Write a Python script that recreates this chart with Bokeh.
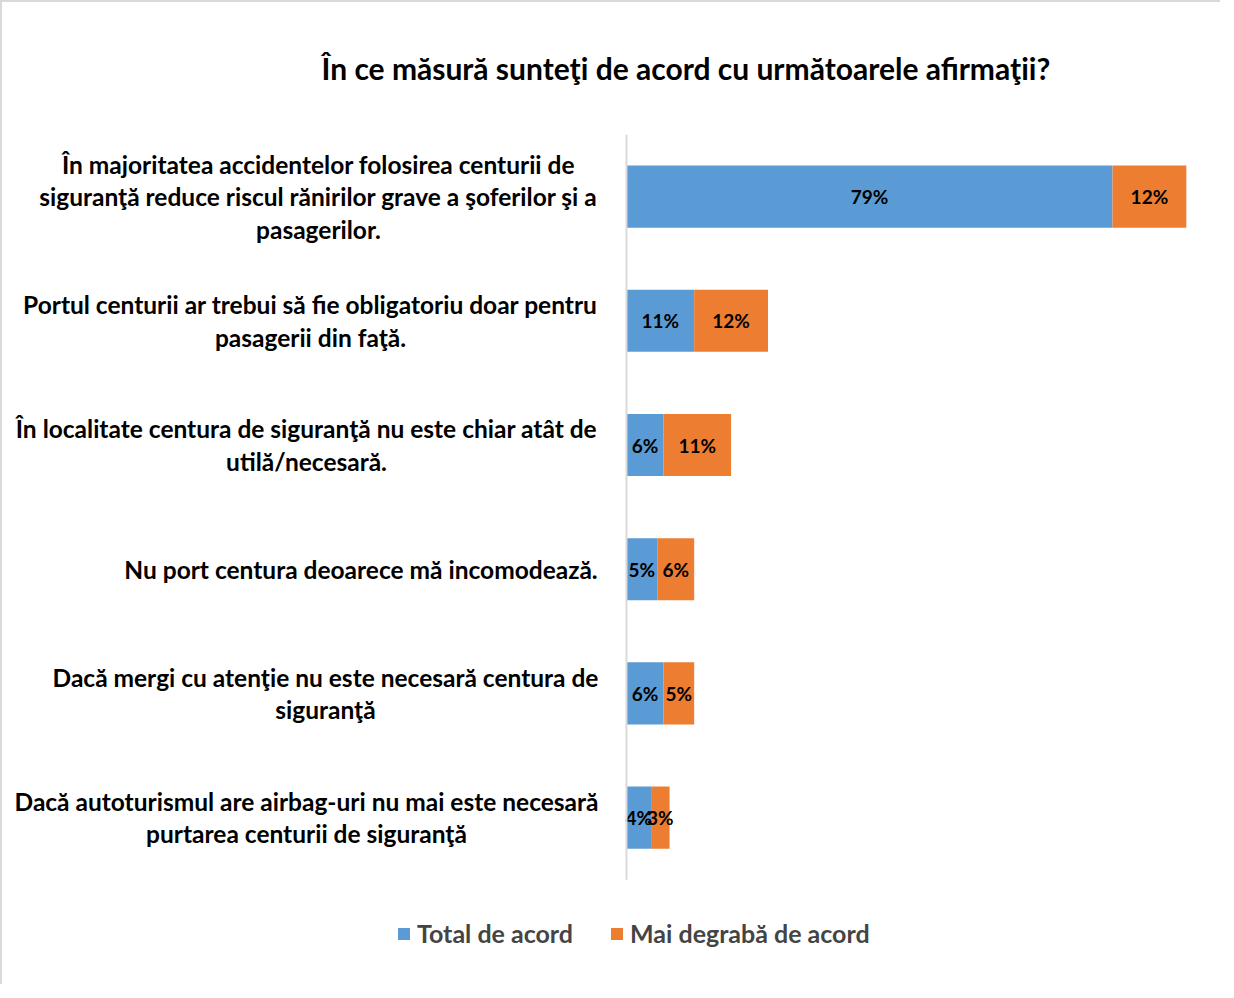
from bokeh.plotting import figure
from bokeh.models import ColumnDataSource, Range1d, Legend
from bokeh.embed import file_html
from bokeh.resources import INLINE
from bokeh.core.properties import value

categories = [
    "În majoritatea accidentelor folosirea centurii de\nsiguranţă reduce riscul rănirilor grave a şoferilor şi a\npasagerilor.",
    "Portul centurii ar trebui să fie obligatoriu doar pentru\npasagerii din faţă.",
    "În localitate centura de siguranţă nu este chiar atât de\nutilă/necesară.",
    "Nu port centura deoarece mă incomodează.",
    "Dacă mergi cu atenţie nu este necesară centura de\nsiguranţă",
    "Dacă autoturismul are airbag-uri nu mai este necesară\npurtarea centurii de siguranţă",
]
total_de_acord = [79, 11, 6, 5, 6, 4]
mai_degraba = [12, 12, 11, 6, 5, 3]
series_names = ["Total de acord", "Mai degrabă de acord"]
title_text = "În ce măsură sunteţi de acord cu următoarele afirmaţii?"

# --- styling ---
BLUE = "#5B9BD5"
ORANGE = "#ED7D31"
FONT = "Lato"
FRAME_W = 1212          # px
FRAME_H = 850           # px (bars area + legend strip below it)
AXIS_X = 624            # px from frame left where the value axis starts
PX_PER_UNIT = 6.152     # px per percentage point
PX_PER_CAT = 124.2      # px per category row
LABEL_GAP = 28          # px between category labels and axis
label_block_widths = [560, 576, 584, 475, 546, 584]   # px, for centred multi-line labels

n = len(categories)
ypos = [n - 1 - i for i in range(n)]   # first category on top

src = ColumnDataSource(dict(
    y=ypos,
    cat=categories,
    total=total_de_acord,
    mai=mai_degraba,
    total_mid=[t / 2 for t in total_de_acord],
    mai_mid=[t + m / 2 for t, m in zip(total_de_acord, mai_degraba)],
    total_lbl=[f"{t}%" for t in total_de_acord],
    mai_lbl=[f"{m}%" for m in mai_degraba],
    zero=[0] * n,
    lbl_off=[-(LABEL_GAP + w / 2) for w in label_block_widths],
))

p = figure(
    x_range=Range1d(-AXIS_X / PX_PER_UNIT, (FRAME_W - AXIS_X) / PX_PER_UNIT),
    y_range=Range1d((n - 0.5) - FRAME_H / PX_PER_CAT, n - 0.5),
    frame_width=FRAME_W, frame_height=FRAME_H,
    output_backend="svg", toolbar_location=None,
    min_border_left=0, min_border_right=6, min_border_top=0, min_border_bottom=0,
)

renderers = p.hbar_stack(["total", "mai"], y="y", height=0.5, color=[BLUE, ORANGE],
                         source=src, line_color=None)

for xcol, lcol in [("total_mid", "total_lbl"), ("mai_mid", "mai_lbl")]:
    p.text(x=xcol, y="y", text=lcol, source=src, text_align="center",
           text_baseline="middle", text_font=value(FONT), text_font_style="bold",
           text_font_size="19px", text_color="#000000")

# category labels (centred lines, block right-aligned next to the axis)
p.text(x="zero", y="y", text="cat", source=src, x_offset="lbl_off",
       text_align="center", text_baseline="middle", text_font=value(FONT),
       text_font_style="bold", text_font_size="24.5px", text_color="#000000",
       text_line_height=1.12)

# category axis line
p.segment(x0=[0], y0=[-0.5], x1=[0], y1=[n - 0.5], line_color="#d9d9d9", line_width=2)

p.title.text = title_text
p.title.text_font = FONT
p.title.text_font_size = "30px"
p.title.text_font_style = "bold"
p.title.align = "left"
p.title.vertical_align = "top"
p.title.offset = 319
p.title.standoff = 94
p.title.text_color = "#000000"

p.xaxis.visible = False
p.yaxis.visible = False
p.xgrid.visible = False
p.ygrid.visible = False
p.outline_line_color = None

legend = Legend(items=[(series_names[0], [renderers[0]]), (series_names[1], [renderers[1]])],
                orientation="horizontal", location=(394, 36),
                label_text_font=FONT, label_text_font_style="bold",
                label_text_font_size="25px", border_line_color=None,
                background_fill_alpha=0, padding=0, margin=0,
                glyph_width=15, glyph_height=15, spacing=36, label_standoff=6)
p.add_layout(legend, "center")

p.styles = {"border-left": "2px solid #d9d9d9", "border-top": "2px solid #d9d9d9"}

open("out.html", "w").write(file_html(p, INLINE))
